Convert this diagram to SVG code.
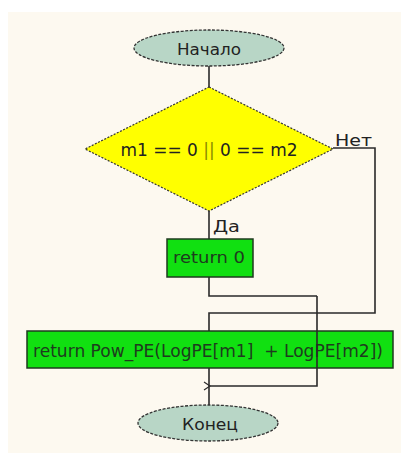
<svg xmlns="http://www.w3.org/2000/svg" width="401" height="453" viewBox="0 0 401 453">
  <style>
    .lbl { font-family: Tahoma, "DejaVu Sans", "Liberation Sans", sans-serif; fill: #222; }
    .term { fill: #b8d6c6; stroke: #333; stroke-width: 1.3; stroke-dasharray: 3 1.5; }
    .dec { fill: #ffff00; stroke: #333; stroke-width: 1.2; stroke-dasharray: 2 1.5; }
    .proc { fill: #11e011; stroke: #1f3a1f; stroke-width: 1.5; }
    .proc-text { font-family: Tahoma, "DejaVu Sans", "Liberation Sans", sans-serif; fill: #1e3c1e; }
    .wire { fill: none; stroke: #2a2a2a; stroke-width: 1.6; }
  </style>
  <defs>
    <marker id="open-arrow" markerWidth="10" markerHeight="10" refX="1" refY="5" orient="auto" markerUnits="userSpaceOnUse">
      <path d="M7,1 L1,5 L7,9" fill="none" stroke="#2a2a2a" stroke-width="1.2"/>
    </marker>
  </defs>

  <rect x="0" y="0" width="401" height="453" fill="#ffffff"/>
  <rect x="8" y="12" width="393" height="441" fill="#fdf9f0"/>

  <!-- connectors -->
  <g id="connectors">
    <line class="wire" x1="209" y1="66" x2="209" y2="87"/>
    <line class="wire" x1="209" y1="211" x2="209" y2="239"/>
    <polyline class="wire" points="333,148 375,148 375,313 209,313 209,331"/>
    <polyline class="wire" points="209,277 209,296 317,296"/>
    <line class="wire" x1="209" y1="368" x2="209" y2="405"/>
    <text class="lbl" x="335" y="146" font-size="15" textLength="37" lengthAdjust="spacingAndGlyphs">Нет</text>
    <text class="lbl" x="213" y="232" font-size="15" textLength="27" lengthAdjust="spacingAndGlyphs">Да</text>
  </g>

  <g id="start">
    <ellipse class="term" cx="209" cy="48" rx="75" ry="18"/>
    <text class="lbl" x="209" y="55" font-size="16" text-anchor="middle" textLength="64" lengthAdjust="spacingAndGlyphs">Начало</text>
  </g>

  <g id="condition">
    <polygon class="dec" points="209,87 333,149 209,211 85,149"/>
    <text class="lbl" x="209" y="156" font-size="17" text-anchor="middle" textLength="177" lengthAdjust="spacingAndGlyphs">m1 == 0 <tspan fill="#8a8a00">||</tspan> 0 == m2</text>
  </g>

  <g id="return-zero">
    <rect class="proc" x="167" y="239" width="86" height="38"/>
    <text class="proc-text" x="209" y="263" font-size="16" text-anchor="middle" textLength="72" lengthAdjust="spacingAndGlyphs">return 0</text>
  </g>

  <g id="return-pow">
    <rect class="proc" x="27" y="331" width="366" height="37"/>
    <text class="proc-text" x="33" y="357" font-size="17" textLength="350" lengthAdjust="spacingAndGlyphs" xml:space="preserve">return Pow_PE(LogPE[m1]  + LogPE[m2])</text>
  </g>

  <!-- return 0 branch crosses over the lower block and joins before the end -->
  <polyline class="wire" points="317,296 317,386 210,386" marker-end="url(#open-arrow)"/>

  <g id="end">
    <ellipse class="term" cx="208" cy="423" rx="70" ry="18"/>
    <text class="lbl" x="210" y="430" font-size="16" text-anchor="middle" textLength="56" lengthAdjust="spacingAndGlyphs">Конец</text>
  </g>
</svg>
